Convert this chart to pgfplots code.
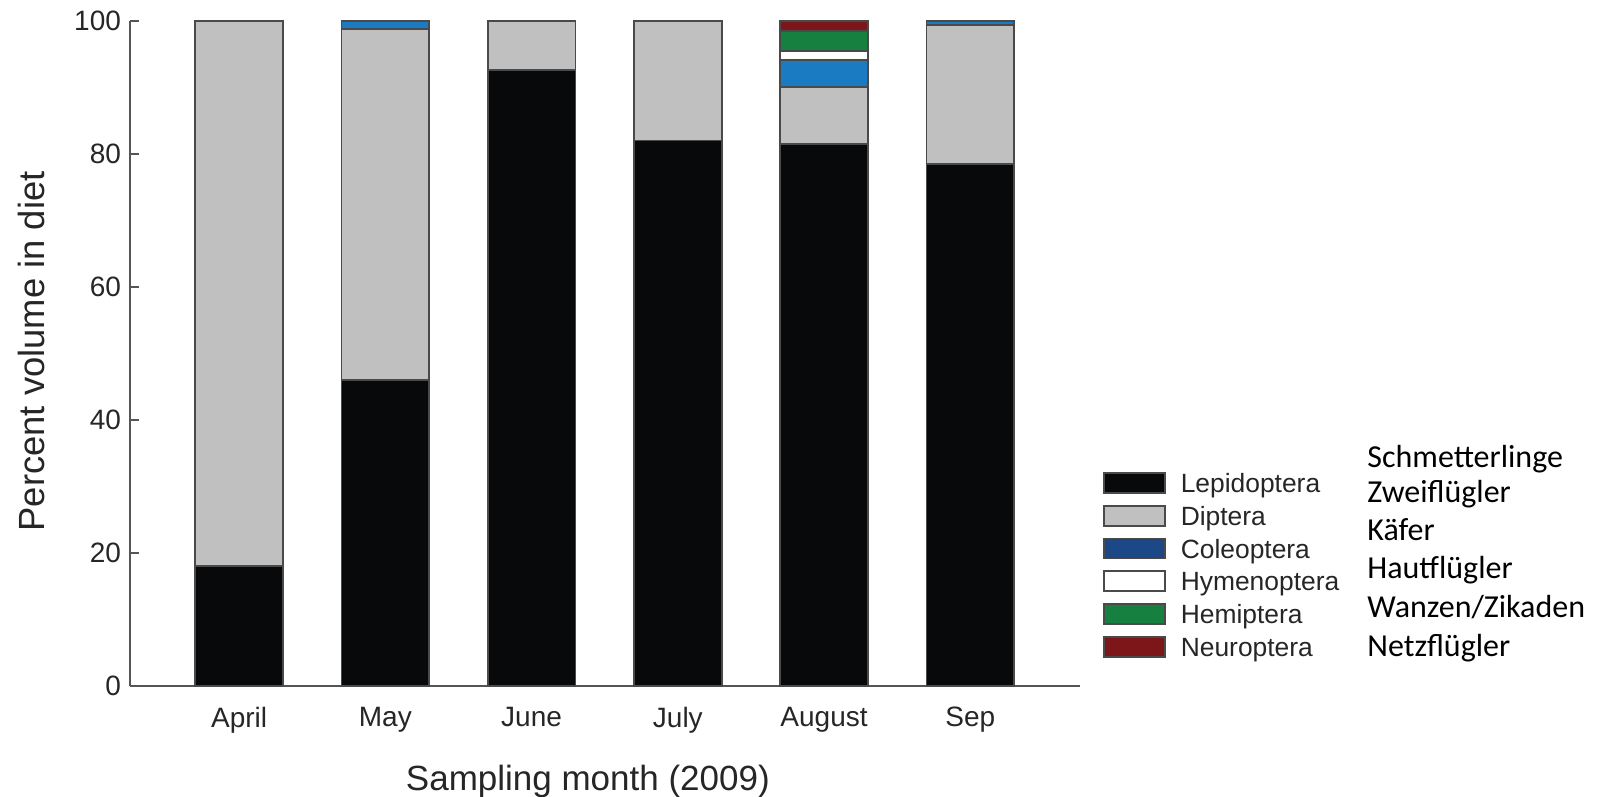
\documentclass[border=0pt]{standalone}
\usepackage{pgfplots}
\pgfplotsset{compat=1.18}
\usepackage{fontspec}
\setmainfont{Liberation Sans}
\newfontfamily\calibri{Carlito}

\definecolor{lepi}{HTML}{08090B}
\definecolor{dipt}{HTML}{C0C0C0}
\definecolor{coleo}{HTML}{1A7BC3}
\definecolor{coleoleg}{HTML}{1C4888}
\definecolor{hyme}{HTML}{FFFFFF}
\definecolor{hemi}{HTML}{15803F}
\definecolor{neuro}{HTML}{7D1618}
\definecolor{edge}{HTML}{4A4A4A}
\definecolor{axisgray}{HTML}{555555}
\definecolor{txt}{HTML}{262626}

% diet composition per sampling month (percent volume)
\pgfplotstableread{
x  lep   dip   col  hym  hem  neu
0  18.0  82.0  0.0  0.0  0.0  0.0
1  46.0  52.8  1.2  0.0  0.0  0.0
2  92.6   7.4  0.0  0.0  0.0  0.0
3  82.0  18.0  0.0  0.0  0.0  0.0
4  81.5   8.5  4.1  1.4  3.0  1.5
5  78.5  20.8  0.7  0.0  0.0  0.0
}\diet

\begin{document}
\begin{tikzpicture}[x=1pt,y=1pt]
\path[use as bounding box] (0,0) rectangle (801,398.5);
\begin{axis}[
  at={(65pt,55.5pt)}, anchor=south west,
  scale only axis, width=475pt, height=332.65pt,
  xmin=-0.746, xmax=5.75, ymin=0, ymax=100,
  axis x line=bottom, axis y line=left,
  axis line style={-, draw=axisgray, line width=0.9pt},
  xtick={0,...,5},
  xticklabels={April,May,June,July,August,Sep},
  major x tick style={draw=none},
  ytick={0,20,...,100},
  tick align=inside,
  major tick length=4.5pt,
  major y tick style={draw=axisgray, line width=0.9pt},
  /pgf/number format/assume math mode=true,
  tick label style={font=\fontsize{14}{16}\selectfont, text=txt},
  xticklabel style={yshift=-7pt},
  yticklabel style={xshift=-1pt},
  xlabel={Sampling month (2009)},
  ylabel={Percent volume in diet},
  xlabel style={font=\fontsize{17.5}{21}\selectfont, text=txt,
    at={(axis description cs:0.482,-0.1428)}, anchor=center},
  ylabel style={font=\fontsize{18.2}{22}\selectfont, text=txt,
    at={(axis description cs:-0.1042,0.503)}, anchor=center},
  ybar stacked, bar width=0.6,
  clip=false,
  legend cell align=left,
  legend image code/.code={\draw[#1] (0pt,-5pt) rectangle (30.5pt,5pt);},
  legend style={
    at={(axis description cs:1.0242,0.3298)}, anchor=north west,
    draw=none, fill=none, inner sep=0pt, outer sep=0pt,
    column sep=7.5pt, row sep=0pt,
    font=\fontsize{13.2}{15}\selectfont, text=txt,
    nodes={inner sep=0pt, text height=13pt, text depth=3.4pt},
  },
]
\addplot[fill=lepi,  draw=edge, line width=0.9pt, forget plot] table[x=x, y=lep] {\diet};
\addplot[fill=dipt,  draw=edge, line width=0.9pt, forget plot] table[x=x, y=dip] {\diet};
\addplot[fill=coleo, draw=edge, line width=0.9pt, forget plot] table[x=x, y=col] {\diet};
\addplot[fill=hyme,  draw=edge, line width=0.9pt, forget plot] table[x=x, y=hym] {\diet};
\addplot[fill=hemi,  draw=edge, line width=0.9pt, forget plot] table[x=x, y=hem] {\diet};
\addplot[fill=neuro, draw=edge, line width=0.9pt, forget plot] table[x=x, y=neu] {\diet};

\addlegendimage{fill=lepi, draw=edge, line width=0.9pt}
\addlegendentry{Lepidoptera}
\addlegendimage{fill=dipt, draw=edge, line width=0.9pt}
\addlegendentry{Diptera}
\addlegendimage{fill=coleoleg, draw=edge, line width=0.9pt}
\addlegendentry{Coleoptera}
\addlegendimage{fill=hyme, draw=edge, line width=0.9pt}
\addlegendentry{Hymenoptera}
\addlegendimage{fill=hemi, draw=edge, line width=0.9pt}
\addlegendentry{Hemiptera}
\addlegendimage{fill=neuro, draw=edge, line width=0.9pt}
\addlegendentry{Neuroptera}
\end{axis}

% German common names beside the legend
\begin{scope}[every node/.style={anchor=base west, inner sep=0pt,
    font=\calibri\fontsize{16}{19}\selectfont, text=black}]
\node at (683.5,164.85) {Schmetterlinge};
\node at (683.5,147.0)  {Zweiflügler};
\node at (683.5,128.4)  {Käfer};
\node at (683.5,109.0)  {Hautflügler};
\node at (683.5,89.8)   {Wanzen/Zikaden};
\node at (683.5,70.0)   {Netzflügler};
\end{scope}
\end{tikzpicture}
\end{document}
